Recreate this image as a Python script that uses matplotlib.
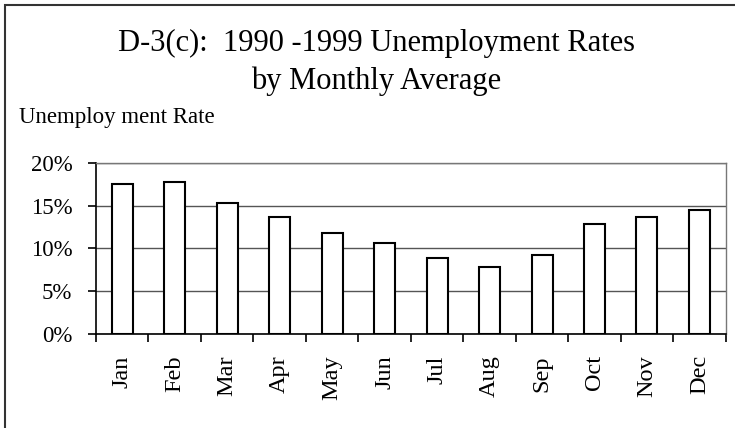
import numpy as np
import matplotlib.pyplot as plt
from matplotlib.patches import Rectangle
from matplotlib.ticker import FuncFormatter

plt.rcParams['font.family'] = ['Liberation Serif', 'DejaVu Serif']

months = ["Jan", "Feb", "Mar", "Apr", "May", "Jun",
          "Jul", "Aug", "Sep", "Oct", "Nov", "Dec"]
# monthly average unemployment rate, %
rates = [17.5, 17.7, 15.3, 13.7, 11.8, 10.6, 8.9, 7.9, 9.3, 12.8, 13.7, 14.5]
yticks = [0, 5, 10, 15, 20]

fig = plt.figure(figsize=(7.35, 4.28), dpi=100)
ax = fig.add_axes([0.1306, 0.2189, 0.8567, 0.401])

x = np.arange(len(months))
ax.bar(x, rates, width=0.4, color="white", edgecolor="black", linewidth=1.5, zorder=3)

ax.set_xlim(-0.5, len(months) - 0.5)
ax.set_ylim(0, 20)
ax.set_yticks(yticks)
ax.yaxis.set_major_formatter(FuncFormatter(lambda v, p: "%d%%" % v))
ax.grid(axis="y", color="#555555", linewidth=1.0, zorder=0)

# category ticks sit between the bars, labels in the middle
ax.set_xticks(np.arange(-0.5, len(months), 1.0))
ax.set_xticklabels([])
ax.set_xticks(x, minor=True)
ax.set_xticklabels(months, minor=True, rotation=90, fontsize=17.5)
ax.tick_params(axis="x", which="minor", length=0, pad=15)
ax.tick_params(axis="x", which="major", length=6, width=1.2, direction="out")
ax.tick_params(axis="y", length=6, width=1.2, labelsize=16.5, pad=11)

for s in ["top", "right"]:
    ax.spines[s].set_color("#777777")
    ax.spines[s].set_linewidth(1.0)
for s in ["left", "bottom"]:
    ax.spines[s].set_color("black")
    ax.spines[s].set_linewidth(1.2)

fig.text(0.512, 0.8808, "D-3(c):  1990 -1999 Unemployment Rates",
         ha="center", va="baseline", fontsize=22)
fig.text(0.512, 0.792, "by Monthly Average",
         ha="center", va="baseline", fontsize=22)
fig.text(0.026, 0.713, "Unemploy ment Rate", ha="left", va="baseline", fontsize=16.5)

# chart frame (runs off right and bottom edges)
fig.patches.append(Rectangle((5 / 735, -0.1), 1.2, 1 - 5 / 428 + 0.1,
                             transform=fig.transFigure, fill=False,
                             edgecolor="#333333", linewidth=1.5))

fig.savefig("out.png", dpi=100)
